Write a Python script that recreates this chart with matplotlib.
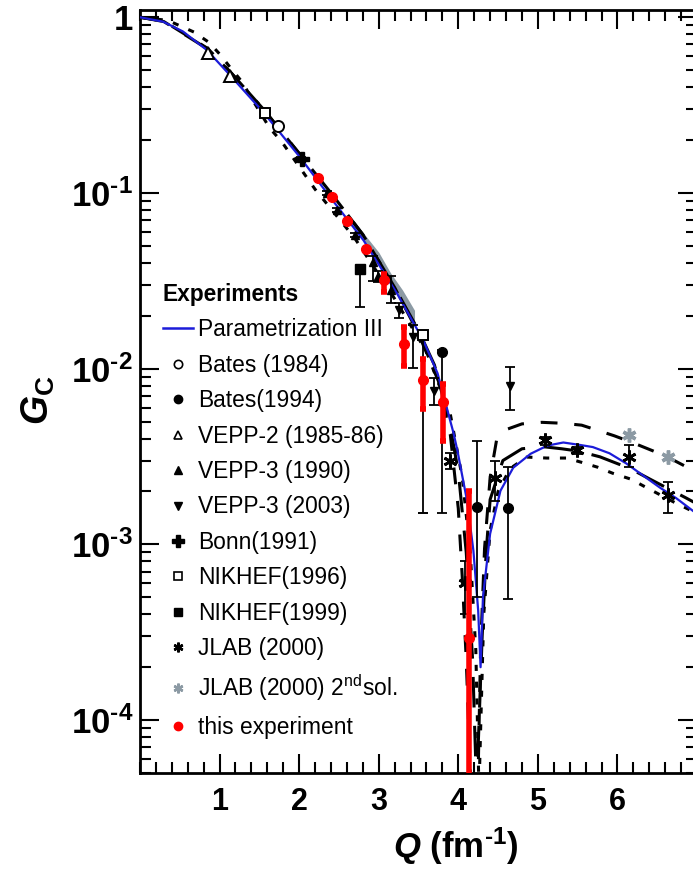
import numpy as np
import matplotlib.pyplot as plt
from matplotlib.lines import Line2D
from matplotlib.ticker import FixedLocator, FixedFormatter, MultipleLocator, LogLocator, NullFormatter

plt.rcParams['font.family'] = ['Liberation Sans', 'DejaVu Sans']
plt.rcParams['mathtext.fontset'] = 'custom'
plt.rcParams['mathtext.rm'] = 'Liberation Sans'
plt.rcParams['mathtext.it'] = 'Liberation Sans:italic'
plt.rcParams['mathtext.bf'] = 'Liberation Sans:bold'
plt.rcParams['mathtext.bfit'] = 'Liberation Sans:italic:bold'

# ---- theory curves (Q in fm^-1, G_C) ----
par3_q = [0.0, 0.29, 0.54, 0.84, 1.13, 1.55, 2.01, 2.39, 2.81, 3.23, 3.56, 3.74, 3.94, 3.99,
          4.11, 4.19, 4.25, 4.28, 4.31, 4.40, 4.53, 4.69, 4.91, 5.12, 5.32, 5.53, 5.69, 5.90,
          6.11, 6.32, 6.53, 6.74, 6.95]
par3_g = [1.0, 0.944, 0.83, 0.651, 0.469, 0.288, 0.160, 0.0946, 0.0537, 0.0268, 0.0145, 0.0094,
          0.0043, 0.0034, 0.00177, 0.00092, 0.00042, 0.00020, 0.00050, 0.00115, 0.00202, 0.00273,
          0.00328, 0.00365, 0.0038, 0.00368, 0.00358, 0.0033, 0.00289, 0.00247, 0.00211, 0.00183,
          0.00155]

dash_q = [0.0, 0.3, 0.85, 1.15, 1.55, 2.0, 2.4, 2.8, 3.2, 3.5, 3.7, 3.88, 4.0, 4.1, 4.18, 4.23,
          4.3, 4.35, 4.40, 4.56, 4.8, 5.06, 5.3, 5.5, 5.78, 6.16, 6.41, 6.85, 7.0]
dash_g = [1.0, 0.945, 0.66, 0.48, 0.30, 0.168, 0.100, 0.058, 0.029, 0.0165, 0.0105, 0.0052, 0.0026,
          9e-4, 2.2e-4, 4e-5, 3e-4, 9e-4, 1.8e-3, 3.0e-3, 3.5e-3, 3.6e-3, 3.5e-3, 3.4e-3, 3.15e-3,
          2.7e-3, 2.35e-3, 1.85e-3, 1.7e-3]

ldash_q = [0.0, 0.3, 0.85, 1.15, 1.55, 2.0, 2.4, 2.8, 3.2, 3.5, 3.75, 3.9, 4.0, 4.05, 4.1, 4.17,
           4.24, 4.28, 4.33, 4.40, 4.48, 4.6, 4.8, 5.05, 5.31, 5.55, 5.75, 5.96, 6.18, 6.45, 6.66,
           6.95]
ldash_g = [1.0, 0.95, 0.665, 0.48, 0.30, 0.168, 0.100, 0.058, 0.029, 0.0158, 0.0085, 0.0042, 0.0016,
           6.5e-4, 2.2e-4, 3e-5, 3e-5, 2.5e-4, 9.5e-4, 2.4e-3, 3.9e-3, 4.5e-3, 4.85e-3, 4.95e-3,
           4.89e-3, 4.77e-3, 4.46e-3, 4.15e-3, 3.81e-3, 3.4e-3, 3.09e-3, 2.64e-3]

dot_q = [0.0, 0.35, 0.68, 0.87, 1.01, 1.15, 1.29, 1.40, 1.63, 1.78, 2.2, 2.7, 3.2, 3.6, 3.9, 4.05,
         4.15, 4.22, 4.26, 4.32, 4.4, 4.5, 4.65, 4.86, 5.11, 5.36, 5.55, 5.75, 5.94, 6.17, 6.36,
         6.72, 7.0]
dot_g = [1.0, 0.96, 0.823, 0.718, 0.611, 0.507, 0.425, 0.347, 0.234, 0.196, 0.105, 0.0552, 0.025,
         0.0125, 0.0055, 0.0024, 9e-4, 2.5e-4, 4e-5, 4e-4, 1.2e-3, 2.0e-3, 2.7e-3, 3.14e-3, 3.1e-3,
         3.1e-3, 2.93e-3, 2.75e-3, 2.54e-3, 2.35e-3, 2.11e-3, 1.73e-3, 1.5e-3]

band_q = [2.58, 2.81, 3.0, 3.15, 3.3, 3.45]
band_lo = [0.0734, 0.0537, 0.0405, 0.031, 0.0238, 0.0183]
band_hi = [0.0734, 0.059, 0.046, 0.035, 0.028, 0.0215]

# ---- data sets: Q, G, lower bound, upper bound ----
bates84_q = [1.74]
bates84_g = [0.239]

bates94_q = [3.79, 4.23, 4.62]
bates94_g = [0.0125, 0.00163, 0.00162]
bates94_lo = [0.0015, 0.0005, 0.00049]
bates94_hi = [0.0128, 0.0039, 0.00276]

vepp2_q = [0.86, 1.13]
vepp2_g = [0.625, 0.464]

vepp3_q = [2.02, 2.35, 2.48, 2.70, 2.93, 2.99, 3.16]
vepp3_g = [0.158, 0.100, 0.080, 0.0577, 0.0406, 0.0337, 0.028]
vepp3_lo = [0.155, 0.098, 0.078, 0.056, 0.0317, 0.031, 0.0236]
vepp3_hi = [0.161, 0.102, 0.082, 0.059, 0.0437, 0.036, 0.0336]

vepp03_q = [3.25, 3.43, 3.70, 4.65]
vepp03_g = [0.0215, 0.0152, 0.0075, 0.0080]
vepp03_lo = [0.0195, 0.0101, 0.0062, 0.0058]
vepp03_hi = [0.0235, 0.0177, 0.0088, 0.0102]

bonn_q = [2.03]
bonn_g = [0.157]

nik96_q = [1.57, 3.56]
nik96_g = [0.284, 0.0155]
nik96_lo = [0.28, 0.0015]
nik96_hi = [0.29, 0.0163]

nik99_q = [2.76]
nik99_g = [0.037]
nik99_lo = [0.0225]
nik99_hi = [0.038]

jlab_q = [3.90, 4.09, 4.46, 5.09, 5.49, 6.14, 6.64]
jlab_g = [3.0e-3, 6e-4, 2.4e-3, 3.91e-3, 3.43e-3, 3.15e-3, 1.9e-3]
jlab_lo = [2.7e-3, 4e-4, 1.77e-3, 3.7e-3, 3.25e-3, 2.74e-3, 1.5e-3]
jlab_hi = [3.3e-3, 8e-4, 2.98e-3, 4.1e-3, 3.6e-3, 3.7e-3, 2.27e-3]

jlab2_q = [6.14, 6.64]
jlab2_g = [4.18e-3, 3.14e-3]

this_q = [2.24, 2.41, 2.60, 2.84, 3.07, 3.32, 3.56, 3.81, 4.14]
this_g = [0.121, 0.0953, 0.0695, 0.0478, 0.0319, 0.0139, 0.0086, 0.0065, 2.95e-4]
this_lo = [0.121, 0.0953, 0.0695, 0.0478, 0.0273, 0.0104, 0.0059, 0.0039, 1e-5]
this_hi = [0.121, 0.0953, 0.0695, 0.0478, 0.0348, 0.0173, 0.0114, 0.0082, 2.0e-3]

# short hyphen (U+2010) in the exponents, as in the original
y_ticks = [1e-4, 1e-3, 1e-2, 1e-1, 1]
y_labels = ['$\\mathbf{10^{\u20104}}$', '$\\mathbf{10^{\u20103}}$', '$\\mathbf{10^{\u20102}}$',
            '$\\mathbf{10^{\u20101}}$', r'$\mathbf{1}$']
x_ticks = [1, 2, 3, 4, 5, 6]

BLUE = '#1c1cd9'
GREY = '#8c9aa4'
RED = '#ff0000'


def errpts(ax, q, g, lo, hi, **kw):
    g = np.array(g)
    yerr = [g - np.array(lo), np.array(hi) - g]
    ax.errorbar(q, g, yerr=yerr, **kw)


fig = plt.figure(figsize=(6.93, 8.69), dpi=100)
ax = fig.add_axes([0.2020, 0.1105, 0.8038, 0.8780])

ax.fill_between(band_q, band_lo, band_hi, color=GREY, lw=0, zorder=1)
ax.plot(ldash_q, ldash_g, color='k', lw=2.2, ls=(0, (5.5, 5.5)), zorder=2)
ax.plot(dash_q, dash_g, color='k', lw=2.2, ls=(0, (10, 6)), zorder=2)
ax.plot(dot_q, dot_g, color='k', lw=2.2, ls=(0, (2, 3.5)), zorder=2)
ax.plot(par3_q, par3_g, color=BLUE, lw=1.6, zorder=3)

bk = dict(color='k', ecolor='k', elinewidth=1.3, capsize=3.5, capthick=1.3, ls='none', zorder=5)
ax.plot(vepp2_q, vepp2_g, ls='none', marker='^', ms=8, mfc='white', mec='k', mew=1.4, zorder=5)
ax.plot(bates84_q, bates84_g, ls='none', marker='o', ms=8, mfc='white', mec='k', mew=1.4, zorder=5)
ax.plot(bonn_q, bonn_g, ls='none', marker='P', ms=10, color='k', zorder=5)
errpts(ax, vepp3_q, vepp3_g, vepp3_lo, vepp3_hi, fmt='^', ms=6, **bk)
errpts(ax, vepp03_q, vepp03_g, vepp03_lo, vepp03_hi, fmt='v', ms=6, **bk)
errpts(ax, bates94_q, bates94_g, bates94_lo, bates94_hi, fmt='o', ms=7, **bk)
errpts(ax, nik96_q, nik96_g, nik96_lo, nik96_hi, fmt='s', ms=7, mfc='white', mew=1.4, **bk)
errpts(ax, nik99_q, nik99_g, nik99_lo, nik99_hi, fmt='s', ms=7, **bk)
errpts(ax, jlab_q, jlab_g, jlab_lo, jlab_hi, fmt='none', **bk)
ax.plot(jlab_q, jlab_g, ls='none', marker=(6, 2, 0), ms=10, mew=2, color='k', zorder=5)
ax.plot(jlab2_q, jlab2_g, ls='none', marker=(6, 2, 0), ms=10, mew=2.5, color=GREY, zorder=5)
errpts(ax, this_q, this_g, this_lo, this_hi, fmt='o', ms=7, color=RED, ecolor=RED,
       elinewidth=4, capsize=2.5, capthick=4, zorder=6)

ax.set_yscale('log')
ax.set_xlim(0, 7)
ax.set_ylim(5e-5, 1.1)
ax.xaxis.set_major_locator(FixedLocator(x_ticks))
ax.xaxis.set_minor_locator(MultipleLocator(0.2))
ax.yaxis.set_major_locator(FixedLocator(y_ticks))
ax.yaxis.set_major_formatter(FixedFormatter(y_labels))
ax.yaxis.set_minor_locator(LogLocator(base=10, subs=np.arange(2, 10)))
ax.yaxis.set_minor_formatter(NullFormatter())
ax.tick_params(which='both', direction='in', top=True, right=True, width=1.5)
ax.tick_params(which='major', length=14)
ax.tick_params(which='minor', length=8)
ax.tick_params(axis='x', labelsize=22, pad=10)
ax.tick_params(axis='y', labelsize=25, pad=5)
for lab in ax.get_xticklabels():
    lab.set_fontweight('bold')
for sp in ax.spines.values():
    sp.set_linewidth(2)

fig.text(38 / 693, 1 - 400 / 869, r'$\mathbfit{G}_{\mathbf{C}}$', rotation=90, fontsize=27,
         ha='center', va='center')
fig.text(456 / 693, 1 - 846 / 869, '$\\mathbfit{Q}\\ \\mathbf{(fm^{\u20101})}$', fontsize=25,
         ha='center', va='center')

handles = [
    Line2D([], [], color=BLUE, lw=1.8, label='Parametrization III'),
    Line2D([], [], ls='none', marker='o', ms=6, mfc='white', mec='k', mew=1.2, label='Bates (1984)'),
    Line2D([], [], ls='none', marker='o', ms=6, color='k', label='Bates(1994)'),
    Line2D([], [], ls='none', marker='^', ms=6, mfc='white', mec='k', mew=1.2, label='VEPP-2 (1985-86)'),
    Line2D([], [], ls='none', marker='^', ms=6, color='k', label='VEPP-3 (1990)'),
    Line2D([], [], ls='none', marker='v', ms=6, color='k', label='VEPP-3 (2003)'),
    Line2D([], [], ls='none', marker='P', ms=8, color='k', label='Bonn(1991)'),
    Line2D([], [], ls='none', marker='s', ms=6, mfc='white', mec='k', mew=1.2, label='NIKHEF(1996)'),
    Line2D([], [], ls='none', marker='s', ms=6, color='k', label='NIKHEF(1999)'),
    Line2D([], [], ls='none', marker=(6, 2, 0), ms=7, mew=1.8, color='k', label='JLAB (2000)'),
    Line2D([], [], ls='none', marker=(6, 2, 0), ms=7, mew=1.8, color=GREY,
           label=r'JLAB (2000) 2$^{\mathregular{nd}}$sol.'),
    Line2D([], [], ls='none', marker='o', ms=6, color=RED, label='this experiment'),
]
leg = ax.legend(handles=handles, title='Experiments', loc='upper left',
                bbox_to_anchor=(163 / 693, 1 - 283 / 869), bbox_transform=fig.transFigure,
                frameon=False, fontsize=16.4, title_fontproperties={'weight': 'bold', 'size': 16.4},
                alignment='left', handlelength=1.3, handletextpad=0.25, labelspacing=0.545,
                borderpad=0, borderaxespad=0)
leg.set_zorder(10)

fig.savefig('out.png', dpi=100)
